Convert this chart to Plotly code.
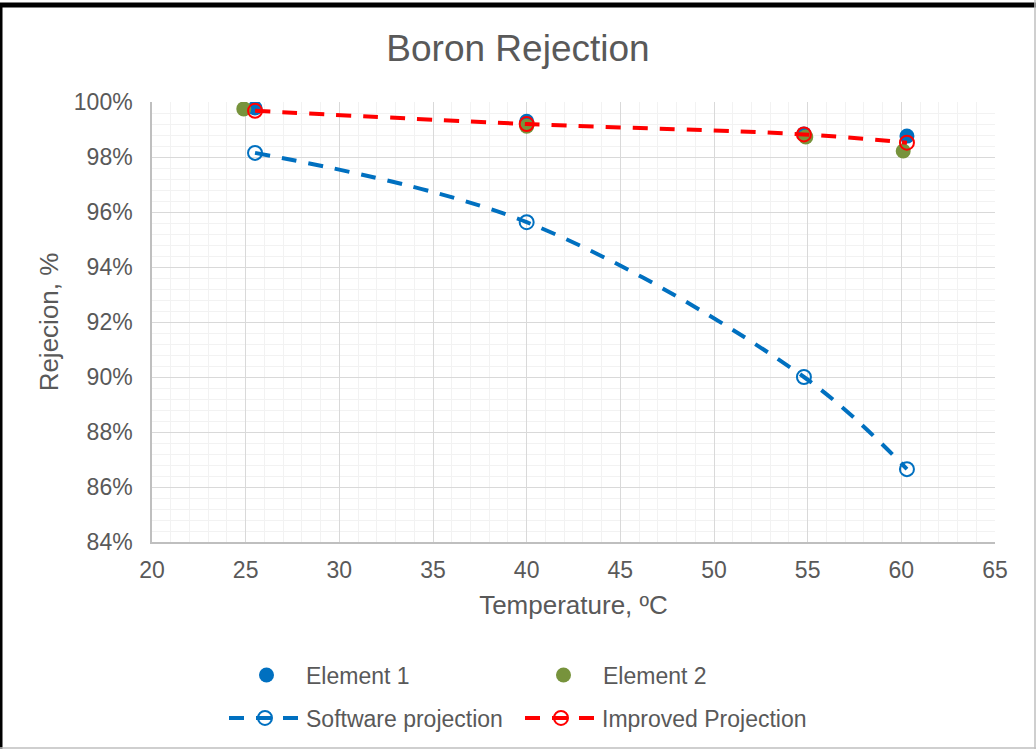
import plotly.graph_objects as go

# temperatures (ºC) and rejection (%)
temp_e1 = [25.5, 40.0, 54.8, 60.3]
rej_e1 = [99.78, 99.30, 98.84, 98.76]

temp_e2 = [24.9, 40.0, 54.9, 60.1]
rej_e2 = [99.75, 99.12, 98.73, 98.22]

temp_proj = [25.5, 40.0, 54.8, 60.3]
rej_software = [98.15, 95.63, 90.0, 86.65]
rej_improved = [99.68, 99.2, 98.82, 98.52]

TEXT = "#595959"
BLUE = "#0070C0"
GREEN = "#77933C"
RED = "#FF0000"
FONT = "Liberation Sans, Arial, sans-serif"

W, H = 1036, 749
L, R, T, B = 152, 41, 102, 207
pw, ph = W - L - R, H - T - B

fig = go.Figure()
fig.add_trace(go.Scatter(
    x=temp_e1, y=rej_e1, name="Element 1", mode="markers",
    marker=dict(color=BLUE, size=15), legend="legend",
))
fig.add_trace(go.Scatter(
    x=temp_e2, y=rej_e2, name="Element 2", mode="markers",
    marker=dict(color=GREEN, size=15), legend="legend",
))
fig.add_trace(go.Scatter(
    x=temp_proj, y=rej_software, name="Software projection",
    mode="lines+markers", legend="legend2",
    line=dict(color=BLUE, width=4, dash="15px,12px", shape="spline"),
    marker=dict(symbol="circle-open", color=BLUE, size=14, line=dict(width=2)),
))
fig.add_trace(go.Scatter(
    x=temp_proj, y=rej_improved, name="Improved Projection",
    mode="lines+markers", legend="legend2",
    line=dict(color=RED, width=4, dash="15px,12px", shape="spline"),
    marker=dict(symbol="circle-open", color=RED, size=14, line=dict(width=2)),
))

axis_common = dict(
    showgrid=True, gridcolor="#D9D9D9", gridwidth=1,
    zeroline=False, ticks="", automargin=False,
    tickfont=dict(size=23, color=TEXT, family=FONT),
    showline=True, linecolor="#BFBFBF", linewidth=1.5,
    mirror=False,
)

legend_common = dict(
    orientation="h", xanchor="left", yanchor="middle",
    entrywidthmode="pixels",
    font=dict(size=23, color=TEXT, family=FONT),
    bgcolor="rgba(0,0,0,0)",
)

fig.update_layout(
    width=W, height=H,
    paper_bgcolor="white", plot_bgcolor="white",
    font=dict(family=FONT, color=TEXT),
    margin=dict(l=L, r=R, t=T, b=B, autoexpand=False),
    title=dict(
        text="Boron Rejection", x=0.5, xanchor="center",
        y=1 - 48 / H, yanchor="middle",
        font=dict(size=37, color=TEXT, family=FONT),
    ),
    xaxis=dict(
        range=[20, 65], dtick=5,
        minor=dict(dtick=1, showgrid=True, gridcolor="#F2F2F2", ticks=""),
        title=dict(text="Temperature, ºC", standoff=13,
                   font=dict(size=26, color=TEXT, family=FONT)),
        ticklabelstandoff=7,
        **axis_common,
    ),
    yaxis=dict(
        range=[84, 100], dtick=2, ticksuffix="%",
        minor=dict(dtick=0.4, showgrid=True, gridcolor="#F2F2F2", ticks=""),
        title=dict(text="Rejecion, %", standoff=8,
                   font=dict(size=26, color=TEXT, family=FONT)),
        ticklabelstandoff=13,
        **axis_common,
    ),
    legend=dict(
        x=(227 - L) / pw, y=(H - B - 675) / ph,
        entrywidth=213, itemwidth=69, **legend_common,
    ),
    legend2=dict(
        x=(224 - L) / pw, y=(H - B - 718) / ph,
        entrywidth=209, itemwidth=72, **legend_common,
    ),
    showlegend=True,
)

# outer chart frame (black top/left, grey right/bottom)
fig.add_shape(type="line", xref="paper", yref="paper",
              x0=-L / pw, x1=(pw + R) / pw, y0=(ph + T - 5) / ph, y1=(ph + T - 5) / ph,
              line=dict(color="black", width=5))
fig.add_shape(type="line", xref="paper", yref="paper",
              x0=(-L + 1) / pw, x1=(-L + 1) / pw, y0=-B / ph, y1=(ph + T - 5) / ph,
              line=dict(color="black", width=3))
fig.add_shape(type="line", xref="paper", yref="paper",
              x0=(pw + R - 1) / pw, x1=(pw + R - 1) / pw, y0=-B / ph, y1=(ph + T) / ph,
              line=dict(color="#BFBFBF", width=1.5))
fig.add_shape(type="line", xref="paper", yref="paper",
              x0=-L / pw, x1=(pw + R) / pw, y0=(-B + 1) / ph, y1=(-B + 1) / ph,
              line=dict(color="#BFBFBF", width=1.5))

fig.write_html("out.html", config={"displayModeBar": False},
               post_script="document.body.style.margin='0px';")
